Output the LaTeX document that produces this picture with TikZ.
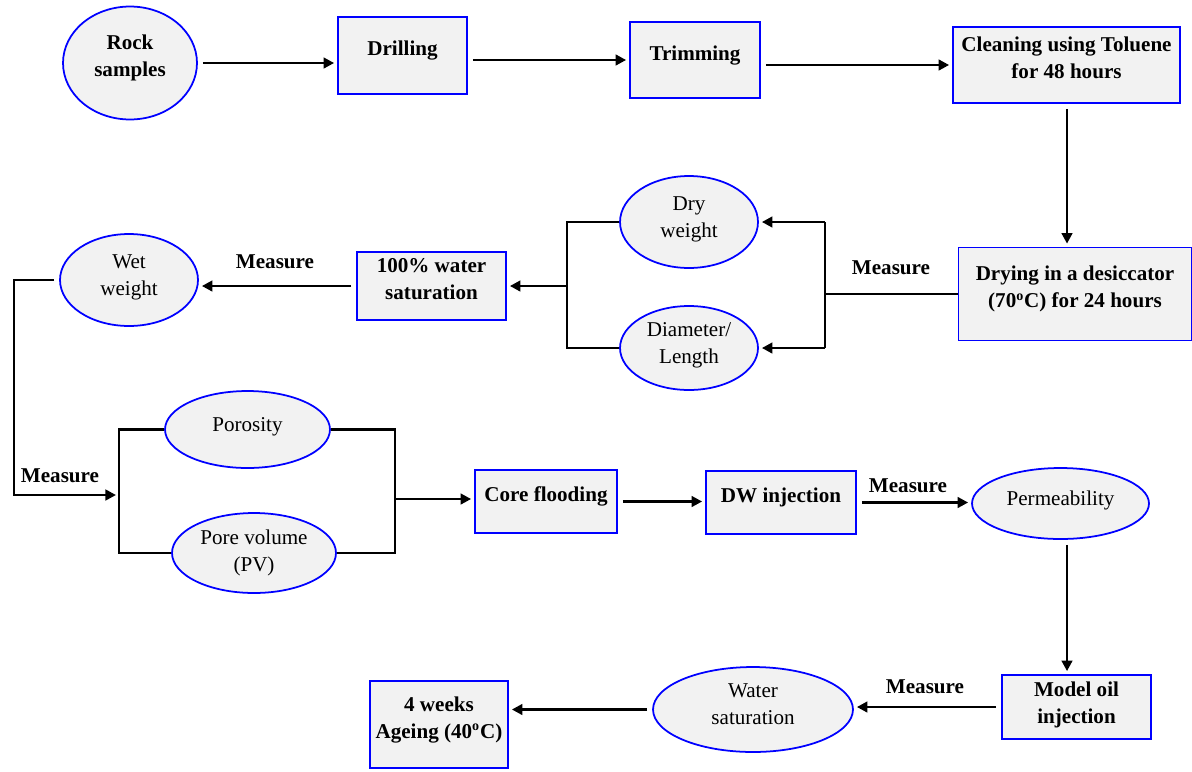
\documentclass[tikz,border=0pt]{standalone}
\usepackage{fontspec}
\setmainfont{Liberation Serif}
\usetikzlibrary{shapes.geometric,arrows.meta}

\definecolor{edgeblue}{RGB}{0,0,255}
\definecolor{boxgray}{RGB}{242,242,242}
\newcommand\diagfont{\fontsize{12pt}{15.5pt}\selectfont}

\tikzset{
  procbox/.style={draw=edgeblue, fill=boxgray, line width=1pt, align=center,
    inner sep=0pt, text depth=8pt, font=\diagfont\bfseries},
  blob/.style={ellipse, draw=edgeblue, fill=boxgray, line width=1pt, align=center,
    inner sep=0pt, text depth=6pt, font=\diagfont},
  flow/.style={line width=1.5pt, -{Triangle[length=6pt,width=6pt]},
    shorten <=0.1cm, shorten >=0.06cm},
  link/.style={line width=1.5pt},
  note/.style={font=\diagfont\bfseries}
}

\begin{document}
\begin{tikzpicture}[x=0.02cm, y=-0.02cm]
    \useasboundingbox (0,0) rectangle (1192,771);

    % first row
    \node[blob, font=\diagfont\bfseries, text depth=8pt, minimum width=2.68cm, minimum height=2.26cm] (rock) at (130,63) {Rock\\samples};
    \node[procbox, minimum width=2.58cm, minimum height=1.54cm] (drill) at (402.5,55.5) {Drilling};
    \node[procbox, minimum width=2.6cm, minimum height=1.52cm] (trim) at (695,60) {Trimming};
    \node[procbox, minimum width=4.54cm, minimum height=1.52cm] (clean) at (1066.5,65) {Cleaning using Toluene\\for 48 hours};

    % second row
    \node[procbox, minimum width=4.66cm, minimum height=1.86cm] (dry) at (1075,294) {Drying in a desiccator\\(70\textsuperscript{o}C) for 24 hours};
    \node[blob, minimum width=2.76cm, minimum height=1.84cm] (dryw) at (689,222) {Dry\\weight};
    \node[blob, minimum width=2.76cm, minimum height=1.68cm] (diam) at (689,348) {Diameter/\\Length};
    \node[procbox, minimum width=2.98cm, minimum height=1.36cm] (sat) at (431.5,286) {100\% water\\saturation};
    \node[blob, minimum width=2.76cm, minimum height=1.84cm] (wetw) at (129,280) {Wet\\weight};

    % third row
    \node[blob, minimum width=3.3cm, minimum height=1.54cm] (poro) at (247.5,429.5) {Porosity};
    \node[blob, text depth=2.6pt, minimum width=3.28cm, minimum height=1.6cm] (porev) at (254,553) {Pore volume\\(PV)};
    \node[procbox, minimum width=2.84cm, minimum height=1.26cm] (core) at (546,501.5) {Core flooding};
    \node[procbox, minimum width=3cm, minimum height=1.26cm] (dwinj) at (781,502.5) {DW injection};
    \node[blob, minimum width=3.54cm, minimum height=1.42cm] (perm) at (1060.5,503.5) {Permeability};

    % last row
    \node[procbox, text depth=5pt, minimum width=2.98cm, minimum height=1.28cm] (oil) at (1076.5,707) {Model oil\\injection};
    \node[blob, minimum width=4cm, minimum height=1.7cm] (watsat) at (753,709.5) {Water\\saturation};
    \node[procbox, minimum width=2.76cm, minimum height=1.74cm] (age) at (439,724.5) {4 weeks\\Ageing (40\textsuperscript{o}C)};

    % junctions
    \coordinate (vx) at (1067,0);
    \coordinate (jR) at (825,294);
    \coordinate (jL) at (567,286);
    \coordinate (wl) at (14,495);
    \coordinate (jP) at (119,495);
    \coordinate (jQ) at (395,499);

    % connectors
    \draw[flow] (rock.east) -- (rock.east -| drill.west);
    \draw[flow] (drill.east |- trim.west) -- (trim.west);
    \draw[flow] (trim.east |- clean.west) -- (clean.west);
    \draw[flow] (clean.south -| vx) -- (dry.north -| vx);

    \draw[link] (dry.west) -- (jR);
    \draw[link] (jR |- dryw.east) -- (jR |- diam.east);
    \draw[flow, shorten <=0pt] (jR |- dryw.east) -- (dryw.east);
    \draw[flow, shorten <=0pt] (jR |- diam.east) -- (diam.east);
    \node[note] (m1) at (891,268) {Measure};

    \draw[link] (dryw.west) -- (dryw.west -| jL) -- (diam.west -| jL) -- (diam.west);
    \draw[flow, shorten <=0pt] (jL) -- (sat.east);
    \draw[flow] (sat.west) -- (sat.west -| wetw.east);
    \node[note] (m2) at (275,262) {Measure};

    \draw[flow] (wetw.west) -| (wl) -- (jP);
    \node[note] (m3) at (60,476) {Measure};
    \draw[link] (poro.west) -- (poro.west -| jP) -- (porev.west -| jP) -- (porev.west);
    \draw[link] (poro.east) -- (poro.east -| jQ) -- (porev.east -| jQ) -- (porev.east);
    \draw[flow, shorten <=0pt] (jQ) -- (jQ -| core.west);

    \draw[flow] (core.east) -- (core.east -| dwinj.west);
    \draw[flow] (dwinj.east) -- (dwinj.east -| perm.west);
    \node[note] (m4) at (908,486) {Measure};
    \draw[flow] (perm.south -| vx) -- (oil.north -| vx);

    \draw[flow] (oil.west) -- (oil.west -| watsat.east);
    \node[note] (m5) at (925,687) {Measure};
    \draw[flow] (watsat.west) -- (watsat.west -| age.east);
\end{tikzpicture}
\end{document}
